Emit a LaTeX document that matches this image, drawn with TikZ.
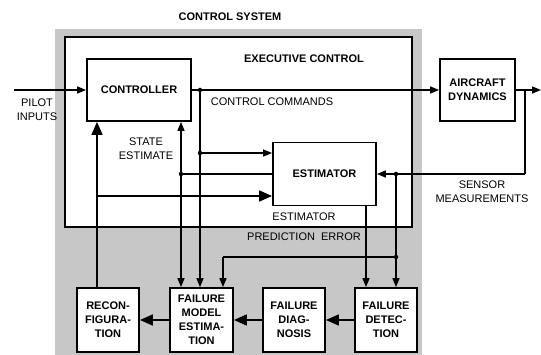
\documentclass[tikz,border=0pt]{standalone}
\usepackage{fontspec}
\setmainfont{Liberation Sans}
\usetikzlibrary{arrows.meta}
\begin{document}
\begin{tikzpicture}[x=1pt,y=-1pt,
  box/.style={draw,line width=1.8pt,fill=white,align=center,font=\fontsize{11}{14}\selectfont\bfseries,inner sep=0pt},
  lbl/.style={align=center,font=\fontsize{11}{14}\selectfont,inner sep=0pt},
  blbl/.style={align=center,font=\fontsize{11}{14}\selectfont\bfseries,inner sep=0pt},
  conn/.style={line width=1.5pt},
  arr/.style={conn,-{Triangle[length=9pt,width=7pt]}},
  bigarr/.style={conn,-{Triangle[length=13pt,width=11pt]}},
  dot/.style={circle,fill=black,inner sep=0pt,minimum size=4.5pt}]
\useasboundingbox (0,0) rectangle (541,355);
% control system shaded region
\fill[black!22] (55,29) rectangle (422,355);
\draw[line width=2.2pt,fill=white] (65,37) rectangle (412,227);
% titles
\node[blbl] (cstitle) at (230,17) {CONTROL SYSTEM};
\node[blbl] (ectitle) at (304,59) {EXECUTIVE CONTROL};
% boxes
\node[box,minimum width=104pt,minimum height=62pt] (ctrl) at (139,90) {CONTROLLER};
\node[box,minimum width=75pt,minimum height=62pt] (ac) at (477.5,90) {AIRCRAFT\\DYNAMICS};
\node[box,minimum width=103pt,minimum height=63pt] (est) at (324.5,174) {ESTIMATOR};
\node[box,minimum width=62pt,minimum height=64pt] (rec) at (108,320) {RECON-\\FIGURA-\\TION};
\node[box,minimum width=63pt,minimum height=64pt] (fme) at (201.5,320) {FAILURE\\MODEL\\ESTIMA-\\TION};
\node[box,minimum width=62pt,minimum height=64pt] (diag) at (294,320) {FAILURE\\DIAG-\\NOSIS};
\node[box,minimum width=62pt,minimum height=64pt] (det) at (386,320) {FAILURE\\DETEC-\\TION};
% labels
\node[lbl] (pilot) at (37,110) {PILOT\\INPUTS};
\node[lbl] (state) at (146,149) {STATE\\ESTIMATE};
\node[lbl] (cmd) at (272,102) {CONTROL COMMANDS};
\node[lbl] (sens) at (482,192) {SENSOR\\MEASUREMENTS};
\node[lbl] (pe1) at (304,217) {ESTIMATOR};
\node[lbl] (pe2) at (304,237) {PREDICTION\ \ ERROR};
% coordinates
\coordinate (pin) at (14,90);
\coordinate (pout) at (541,90);
\coordinate (sbr) at (525,90);
\coordinate (scorner) at (525,174);
\coordinate (fbl) at (223,257);
\node[dot] (cc) at (200,90) {};
\node[dot] (cc2) at (200,153) {};
\node[dot] (se) at (181,174) {};
\node[dot] (sd1) at (396,174) {};
\node[dot] (sd2) at (396,257) {};
\coordinate (rb) at (97,196);
% connectors
\draw[arr] (pin) -- (ctrl.west);
\draw[arr] (ctrl.east) -- (ac.west);
\draw[arr] (ac.east) -- (pout);
\draw[conn] (sbr) -- (scorner);
\draw[arr] (scorner) -- (est.east);
\draw[arr] (sd1) -- (sd1 |- det.north);
\draw[conn] (sd2) -- (fbl);
\draw[arr] (fbl) -- (fbl |- fme.north);
\draw[arr] (cc) -- (cc |- fme.north);
\draw[arr] (cc2) -- (cc2 -| est.west);
\draw[conn] (est.west |- se) -- (se);
\draw[arr] (se) -- (se |- ctrl.south);
\draw[arr] (se) -- (se |- fme.north);
\draw[bigarr] (rec.north -| rb) -- (rb |- ctrl.south);
\draw[bigarr] (rb) -- (rb -| est.west);
\draw[arr] (est.south -| 366,0) -- (det.north -| 366,0);
\draw[bigarr] (det.west) -- (diag.east);
\draw[bigarr] (diag.west) -- (fme.east);
\draw[bigarr] (fme.west) -- (rec.east);
\end{tikzpicture}
\end{document}
